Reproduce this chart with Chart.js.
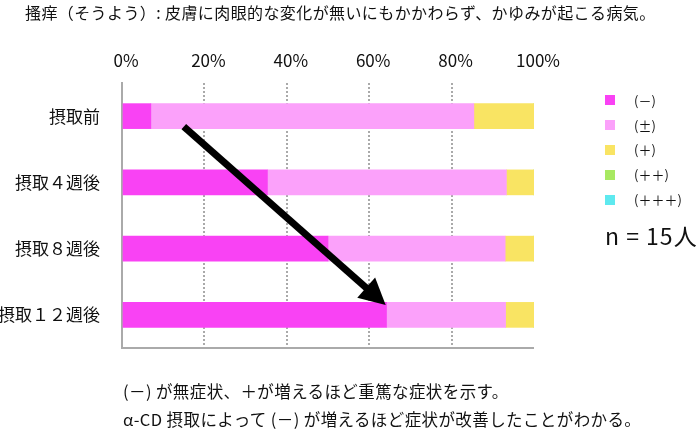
<!DOCTYPE html>
<html lang="ja">
<head>
<meta charset="utf-8">
<script src="https://cdn.jsdelivr.net/npm/chart.js@4.4.1/dist/chart.umd.min.js"></script>
<style>
  html, body { margin: 0; padding: 0; background: #fff; }
  #wrap { position: relative; width: 700px; height: 436px; font-family: "Noto Sans CJK JP", sans-serif; color: #111; }
  #grafico { position: absolute; left: 0; top: 0; }
  .txt { position: absolute; white-space: nowrap; line-height: 1; }
  #titulo { left: 25px; top: 4px; font-size: 16px; letter-spacing: 0.4px; }
  #nota1 { left: 123px; top: 383px; font-size: 16.5px; letter-spacing: 0.4px; }
  #nota2 { left: 123px; top: 411px; font-size: 16.5px; letter-spacing: 0.4px; }
  #leyenda { position: absolute; left: 605px; top: 88px; font-size: 13px; }
  .item { height: 24.8px; display: flex; align-items: center; }
  .caja { width: 10px; height: 10px; margin-right: 19px; }
  #total { left: 605px; top: 224px; font-size: 23px; letter-spacing: 1px; }
</style>
</head>
<body>
<div id="wrap">
  <canvas id="grafico" width="700" height="436"></canvas>
  <div class="txt" id="titulo">搔痒（そうよう）: 皮膚に肉眼的な変化が無いにもかかわらず、かゆみが起こる病気。</div>
  <div id="leyenda"></div>
  <div class="txt" id="total">n = 15人</div>
  <div class="txt" id="nota1">(－) が無症状、＋が増えるほど重篤な症状を示す。</div>
  <div class="txt" id="nota2">α-CD 摂取によって (－) が増えるほど症状が改善したことがわかる。</div>
</div>
<script>
// datos (% de personas)
const categorias = ["摂取前", "摂取４週後", "摂取８週後", "摂取１２週後"];
const nombres = ["(－)", "(±)", "(＋)", "(＋＋)", "(＋＋＋)"];
const colores = ["#f942f4", "#fba1fa", "#f9e463", "#a8e962", "#5ee9ef"];

const menos = [7, 35.3, 50, 64.2];
const masMenos = [78.4, 58, 43, 28.9];
const mas = [14.6, 6.7, 7, 6.9];
const masMas = [0, 0, 0, 0];
const masMasMas = [0, 0, 0, 0];

const ticksX = [0, 20, 40, 60, 80, 100];

// flecha: de (x%, indice categoria) a (x%, indice categoria)
const flechaDesde = { x: 15, y: 0.16 };
const flechaHasta = { x: 64, y: 2.85 };

const series = [menos, masMenos, mas, masMas, masMasMas];

const leyenda = document.getElementById("leyenda");
nombres.forEach((n, i) => {
  const fila = document.createElement("div");
  fila.className = "item";
  fila.innerHTML = `<span class="caja" style="background:${colores[i]}"></span><span>${n}</span>`;
  leyenda.appendChild(fila);
});

const extras = {
  id: "extras",
  afterDatasetsDraw(chart) {
    const { ctx, chartArea, scales } = chart;
    ctx.save();
    // linea inferior
    ctx.strokeStyle = "#aaa";
    ctx.lineWidth = 2;
    ctx.beginPath();
    ctx.moveTo(chartArea.left, chartArea.bottom);
    ctx.lineTo(chartArea.right, chartArea.bottom);
    ctx.stroke();

    // flecha
    const x1 = scales.x.getPixelForValue(flechaDesde.x);
    const y1 = scales.y.getPixelForValue(flechaDesde.y);
    const x2 = scales.x.getPixelForValue(flechaHasta.x);
    const y2 = scales.y.getPixelForValue(flechaHasta.y);
    const ang = Math.atan2(y2 - y1, x2 - x1);
    const largo = 26, ancho = 13.5;
    const bx = x2 - largo * Math.cos(ang);
    const by = y2 - largo * Math.sin(ang);
    ctx.strokeStyle = "#000";
    ctx.lineWidth = 7;
    ctx.beginPath();
    ctx.moveTo(x1, y1);
    ctx.lineTo(bx + 2 * Math.cos(ang), by + 2 * Math.sin(ang));
    ctx.stroke();
    ctx.fillStyle = "#000";
    ctx.beginPath();
    ctx.moveTo(x2, y2);
    ctx.lineTo(bx + ancho * Math.sin(ang), by - ancho * Math.cos(ang));
    ctx.lineTo(bx - ancho * Math.sin(ang), by + ancho * Math.cos(ang));
    ctx.closePath();
    ctx.fill();
    ctx.restore();
  }
};

const ctx = document.getElementById("grafico").getContext("2d");
const chartInstance = new Chart(ctx, {
  type: "bar",
  data: {
    labels: categorias,
    datasets: series.map((valores, i) => ({
      label: nombres[i],
      data: valores,
      backgroundColor: colores[i],
      borderWidth: 0,
      barThickness: 25
    }))
  },
  options: {
    indexAxis: "y",
    responsive: false,
    animation: false,
    layout: { padding: { top: 0, right: 166, bottom: 88, left: 0 } },
    plugins: {
      legend: { display: false },
      tooltip: { enabled: false }
    },
    scales: {
      x: {
        position: "top",
        stacked: true,
        min: 0,
        max: 100,
        afterBuildTicks: (scale) => { scale.ticks = ticksX.map(v => ({ value: v })); },
        afterFit: (scale) => { scale.height = 83; },
        ticks: {
          callback: (v) => v + "%",
          font: { family: "Noto Sans CJK JP", size: 17 },
          color: "#111",
          padding: 12,
          labelOffset: 4
        },
        grid: {
          drawTicks: false,
          lineWidth: 2,
          color: (c) => (c.tick && c.tick.value > 0 && c.tick.value < 100) ? "#aaa" : "rgba(0,0,0,0)"
        },
        border: { display: false, dash: [2, 2] }
      },
      y: {
        stacked: true,
        afterFit: (scale) => { scale.width = 122; },
        ticks: {
          font: { family: "Noto Sans CJK JP", size: 17 },
          color: "#111",
          padding: 22
        },
        grid: { display: false, drawTicks: false },
        border: { display: true, color: "#aaa", width: 2 }
      }
    }
  },
  plugins: [extras]
});
</script>
</body>
</html>
